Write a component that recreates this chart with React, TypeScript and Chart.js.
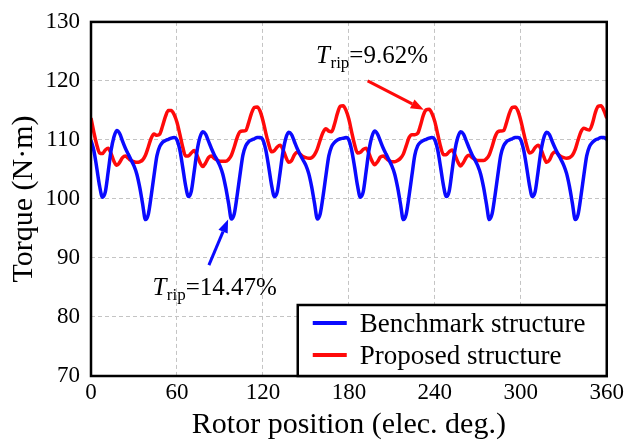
import React, { useEffect, useRef } from 'react';
import { Chart, registerables } from 'chart.js';

Chart.register(...registerables);

// Rotor position sampled every 2 electrical degrees (0 … 360)
const ANGLE_STEP = 2;
const X_TICKS = [0, 60, 120, 180, 240, 300, 360];
const Y_TICKS = [70, 80, 90, 100, 110, 120, 130];

const SERIES_LABELS = ['Benchmark structure', 'Proposed structure'];
const SERIES_COLORS = ['#0a0aff', '#ff0a0a'];

// Torque (N·m), benchmark structure
const BENCHMARK = [
  109.9, 108.2, 105.3, 102.2, 100.3, 101.2, 104.6, 108.2, 110.5, 111.6, 111.1, 109.8, 108.6, 107.6, 106.6, 105.6, 104.2, 102.0, 99.2, 96.5, 97.4, 100.5, 104.0, 107.3, 108.9, 109.6, 109.9, 110.1, 110.3, 110.4,
  110.0, 108.3, 105.4, 102.3, 100.4, 101.3, 104.6, 108.1, 110.4, 111.4, 111.0, 109.8, 108.6, 107.5, 106.6, 105.6, 104.2, 102.0, 99.3, 96.6, 97.5, 100.6, 104.1, 107.4, 109.0, 109.7, 110.0, 110.2, 110.4, 110.4,
  110.0, 108.3, 105.5, 102.4, 100.4, 101.2, 104.5, 108.0, 110.3, 111.3, 110.9, 109.7, 108.5, 107.5, 106.6, 105.7, 104.3, 102.1, 99.3, 96.6, 97.5, 100.5, 104.0, 107.3, 108.9, 109.6, 110.0, 110.2, 110.3, 110.4,
  110.0, 108.2, 105.4, 102.3, 100.3, 101.2, 104.6, 108.2, 110.5, 111.5, 111.0, 109.8, 108.6, 107.6, 106.6, 105.6, 104.2, 102.0, 99.2, 96.5, 97.4, 100.5, 104.0, 107.4, 109.0, 109.6, 109.9, 110.1, 110.3, 110.4,
  110.0, 108.3, 105.4, 102.3, 100.4, 101.3, 104.7, 108.2, 110.4, 111.4, 111.0, 109.8, 108.6, 107.5, 106.6, 105.6, 104.2, 102.0, 99.2, 96.5, 97.5, 100.6, 104.1, 107.4, 109.0, 109.7, 110.0, 110.2, 110.4, 110.4,
  110.0, 108.3, 105.5, 102.4, 100.4, 101.2, 104.5, 108.0, 110.3, 111.3, 110.9, 109.7, 108.6, 107.6, 106.7, 105.7, 104.3, 102.1, 99.3, 96.5, 97.4, 100.5, 104.0, 107.3, 108.9, 109.6, 110.0, 110.2, 110.4, 110.4,
  110.1,
];

// Torque (N·m), proposed structure
const PROPOSED = [
  113.7, 111.3, 109.2, 107.8, 107.7, 108.3, 108.6, 107.7, 106.4, 105.7, 106.2, 107.0, 107.3, 106.9, 106.5, 106.3, 106.2, 106.3, 106.6, 107.4, 108.8, 110.3, 111.0, 110.8, 111.0, 112.4, 114.0, 115.0, 115.0, 114.3,
  113.0, 111.0, 108.8, 107.3, 107.3, 107.8, 108.2, 107.4, 106.2, 105.5, 106.1, 107.0, 107.3, 106.9, 106.6, 106.4, 106.4, 106.4, 106.7, 107.4, 108.8, 110.4, 111.4, 111.5, 111.6, 112.9, 114.5, 115.5, 115.6, 114.9,
  113.3, 111.2, 109.3, 108.0, 108.2, 108.8, 109.1, 108.4, 107.1, 106.2, 106.5, 107.5, 107.9, 107.6, 107.2, 107.0, 106.9, 107.0, 107.5, 108.5, 110.0, 111.3, 111.9, 111.5, 111.4, 112.7, 114.5, 115.7, 115.8, 115.0,
  113.5, 111.3, 109.2, 107.8, 107.9, 108.4, 108.6, 107.7, 106.5, 105.8, 106.3, 107.1, 107.3, 106.9, 106.5, 106.3, 106.3, 106.5, 106.9, 107.6, 109.0, 110.4, 110.9, 110.9, 111.1, 112.5, 114.2, 115.1, 115.2, 114.5,
  113.1, 111.0, 108.9, 107.5, 107.5, 108.0, 108.3, 107.5, 106.3, 105.6, 106.2, 107.1, 107.4, 107.0, 106.7, 106.5, 106.5, 106.5, 106.8, 107.5, 108.9, 110.5, 111.4, 111.5, 111.6, 112.9, 114.5, 115.5, 115.6, 114.9,
  113.3, 111.2, 109.2, 107.8, 108.0, 108.7, 109.1, 108.5, 107.2, 106.2, 106.6, 107.6, 108.0, 107.6, 107.2, 107.0, 106.9, 107.0, 107.4, 108.4, 110.0, 111.4, 112.0, 111.8, 111.7, 112.8, 114.6, 115.7, 115.8, 115.0,
  113.7,
];

// Ripple annotations (in data coordinates: deg, N·m)
const ANNOTATIONS = [
  { value: '=9.62%', color: '#ff0a0a', textAt: [157.1, 123.1], from: [193.1, 120.0], to: [232.3, 115.1] },
  { value: '=14.47%', color: '#0a0aff', textAt: [42.9, 83.8], from: [82.3, 88.8], to: [95.7, 96.5] },
];

const SERIF = '"Liberation Serif", "Times New Roman", serif';

const overlayPlugin = {
  id: 'overlay',
  afterDraw(chart: any) {
    const { ctx, chartArea: a, scales } = chart;
    const xs = scales.x;
    const ys = scales.y;
    ctx.save();

    // frame
    ctx.strokeStyle = '#000';
    ctx.lineWidth = 2.5;
    ctx.strokeRect(a.left, a.top, a.right - a.left, a.bottom - a.top);

    // legend box
    const bw = 309;
    const bh = 71;
    const bx = a.right - bw;
    const by = a.bottom - bh;
    ctx.fillStyle = '#fff';
    ctx.fillRect(bx, by, bw, bh);
    ctx.strokeRect(bx, by, bw, bh);
    const rows = [
      { ly: by + 18, ty: by + 27 },
      { ly: by + 50, ty: by + 58.5 },
    ];
    SERIES_LABELS.forEach((label, i) => {
      ctx.strokeStyle = SERIES_COLORS[i];
      ctx.lineWidth = 4;
      ctx.beginPath();
      ctx.moveTo(bx + 15, rows[i].ly);
      ctx.lineTo(bx + 49, rows[i].ly);
      ctx.stroke();
      ctx.fillStyle = '#000';
      ctx.font = `27px ${SERIF}`;
      ctx.textBaseline = 'alphabetic';
      ctx.textAlign = 'left';
      ctx.fillText(label, bx + 62, rows[i].ty);
    });

    // annotations
    ANNOTATIONS.forEach((an) => {
      const tx = xs.getPixelForValue(an.textAt[0]);
      const ty = ys.getPixelForValue(an.textAt[1]);
      ctx.fillStyle = '#000';
      ctx.textBaseline = 'alphabetic';
      ctx.textAlign = 'left';
      ctx.font = `italic 25px ${SERIF}`;
      ctx.fillText('T', tx, ty);
      let x = tx + ctx.measureText('T').width + 0.5;
      ctx.font = `17px ${SERIF}`;
      ctx.fillText('rip', x, ty + 5);
      x += ctx.measureText('rip').width;
      ctx.font = `25px ${SERIF}`;
      ctx.fillText(an.value, x, ty);

      const x1 = xs.getPixelForValue(an.from[0]);
      const y1 = ys.getPixelForValue(an.from[1]);
      const x2 = xs.getPixelForValue(an.to[0]);
      const y2 = ys.getPixelForValue(an.to[1]);
      const ang = Math.atan2(y2 - y1, x2 - x1);
      const head = 13;
      const half = 5;
      const bxh = x2 - head * Math.cos(ang);
      const byh = y2 - head * Math.sin(ang);
      ctx.strokeStyle = an.color;
      ctx.fillStyle = an.color;
      ctx.lineWidth = 3;
      ctx.beginPath();
      ctx.moveTo(x1, y1);
      ctx.lineTo(bxh, byh);
      ctx.stroke();
      ctx.beginPath();
      ctx.moveTo(x2, y2);
      ctx.lineTo(bxh + half * Math.sin(ang), byh - half * Math.cos(ang));
      ctx.lineTo(bxh - half * Math.sin(ang), byh + half * Math.cos(ang));
      ctx.closePath();
      ctx.fill();
    });

    ctx.restore();
  },
};

export default function App() {
  const ref = useRef<HTMLCanvasElement>(null);

  useEffect(() => {
    if (!ref.current) return;
    const toPoints = (arr: number[]) => arr.map((v, i) => ({ x: i * ANGLE_STEP, y: v }));
    const tickFont = { family: SERIF, size: 23, lineHeight: 0.95 };
    const titleFont = { family: SERIF, size: 30, lineHeight: 1.2 };
    const spacer = (dim: 'width' | 'height', size: number, position: string) => ({
      type: 'linear',
      position,
      display: true,
      ticks: { display: false },
      grid: { display: false, drawTicks: false },
      border: { display: false },
      afterFit: (s: any) => {
        s[dim] = size;
      },
    });
    const chart = new Chart(ref.current, {
      type: 'line',
      data: {
        datasets: [
          {
            label: SERIES_LABELS[0],
            data: toPoints(BENCHMARK),
            borderColor: SERIES_COLORS[0],
            borderWidth: 3.5,
            pointRadius: 0,
            cubicInterpolationMode: 'monotone',
            fill: false,
          },
          {
            label: SERIES_LABELS[1],
            data: toPoints(PROPOSED),
            borderColor: SERIES_COLORS[1],
            borderWidth: 3.5,
            pointRadius: 0,
            cubicInterpolationMode: 'monotone',
            fill: false,
          },
        ],
      },
      options: {
        responsive: false,
        animation: false,
        layout: { padding: 0 },
        plugins: { legend: { display: false }, tooltip: { enabled: false } },
        scales: {
          x: {
            type: 'linear',
            position: 'bottom',
            min: 0,
            max: 360,
            afterBuildTicks: (s: any) => {
              s.ticks = X_TICKS.map((v) => ({ value: v }));
            },
            afterFit: (s: any) => {
              s.height = 68;
            },
            ticks: { font: tickFont, color: '#000', padding: 6, maxRotation: 0 },
            grid: { color: '#c4c4c4', lineWidth: 1, drawTicks: false },
            border: { display: false, dash: [4, 3] },
            title: {
              display: true,
              text: 'Rotor position (elec. deg.)',
              font: titleFont,
              color: '#000',
              padding: { top: 0, bottom: 1 },
            },
          },
          y: {
            type: 'linear',
            position: 'left',
            min: 70,
            max: 130,
            afterBuildTicks: (s: any) => {
              s.ticks = Y_TICKS.map((v) => ({ value: v }));
            },
            afterFit: (s: any) => {
              s.width = 91;
            },
            ticks: { font: tickFont, color: '#000', padding: 11 },
            grid: { color: '#c4c4c4', lineWidth: 1, drawTicks: false },
            border: { display: false, dash: [4, 3] },
            title: {
              display: true,
              text: 'Torque (N·m)',
              font: titleFont,
              color: '#000',
              padding: { top: 6, bottom: 0 },
            },
          },
          topSpace: spacer('height', 11, 'top'),
          rightSpace: spacer('width', 19, 'right'),
        },
      },
      plugins: [overlayPlugin],
    } as any);
    return () => chart.destroy();
  }, []);

  return (
    <div style={{ position: 'absolute', left: 0, top: 0, width: 630, height: 444, background: '#fff' }}>
      <canvas ref={ref} width={630} height={444} style={{ display: 'block' }} />
    </div>
  );
}
